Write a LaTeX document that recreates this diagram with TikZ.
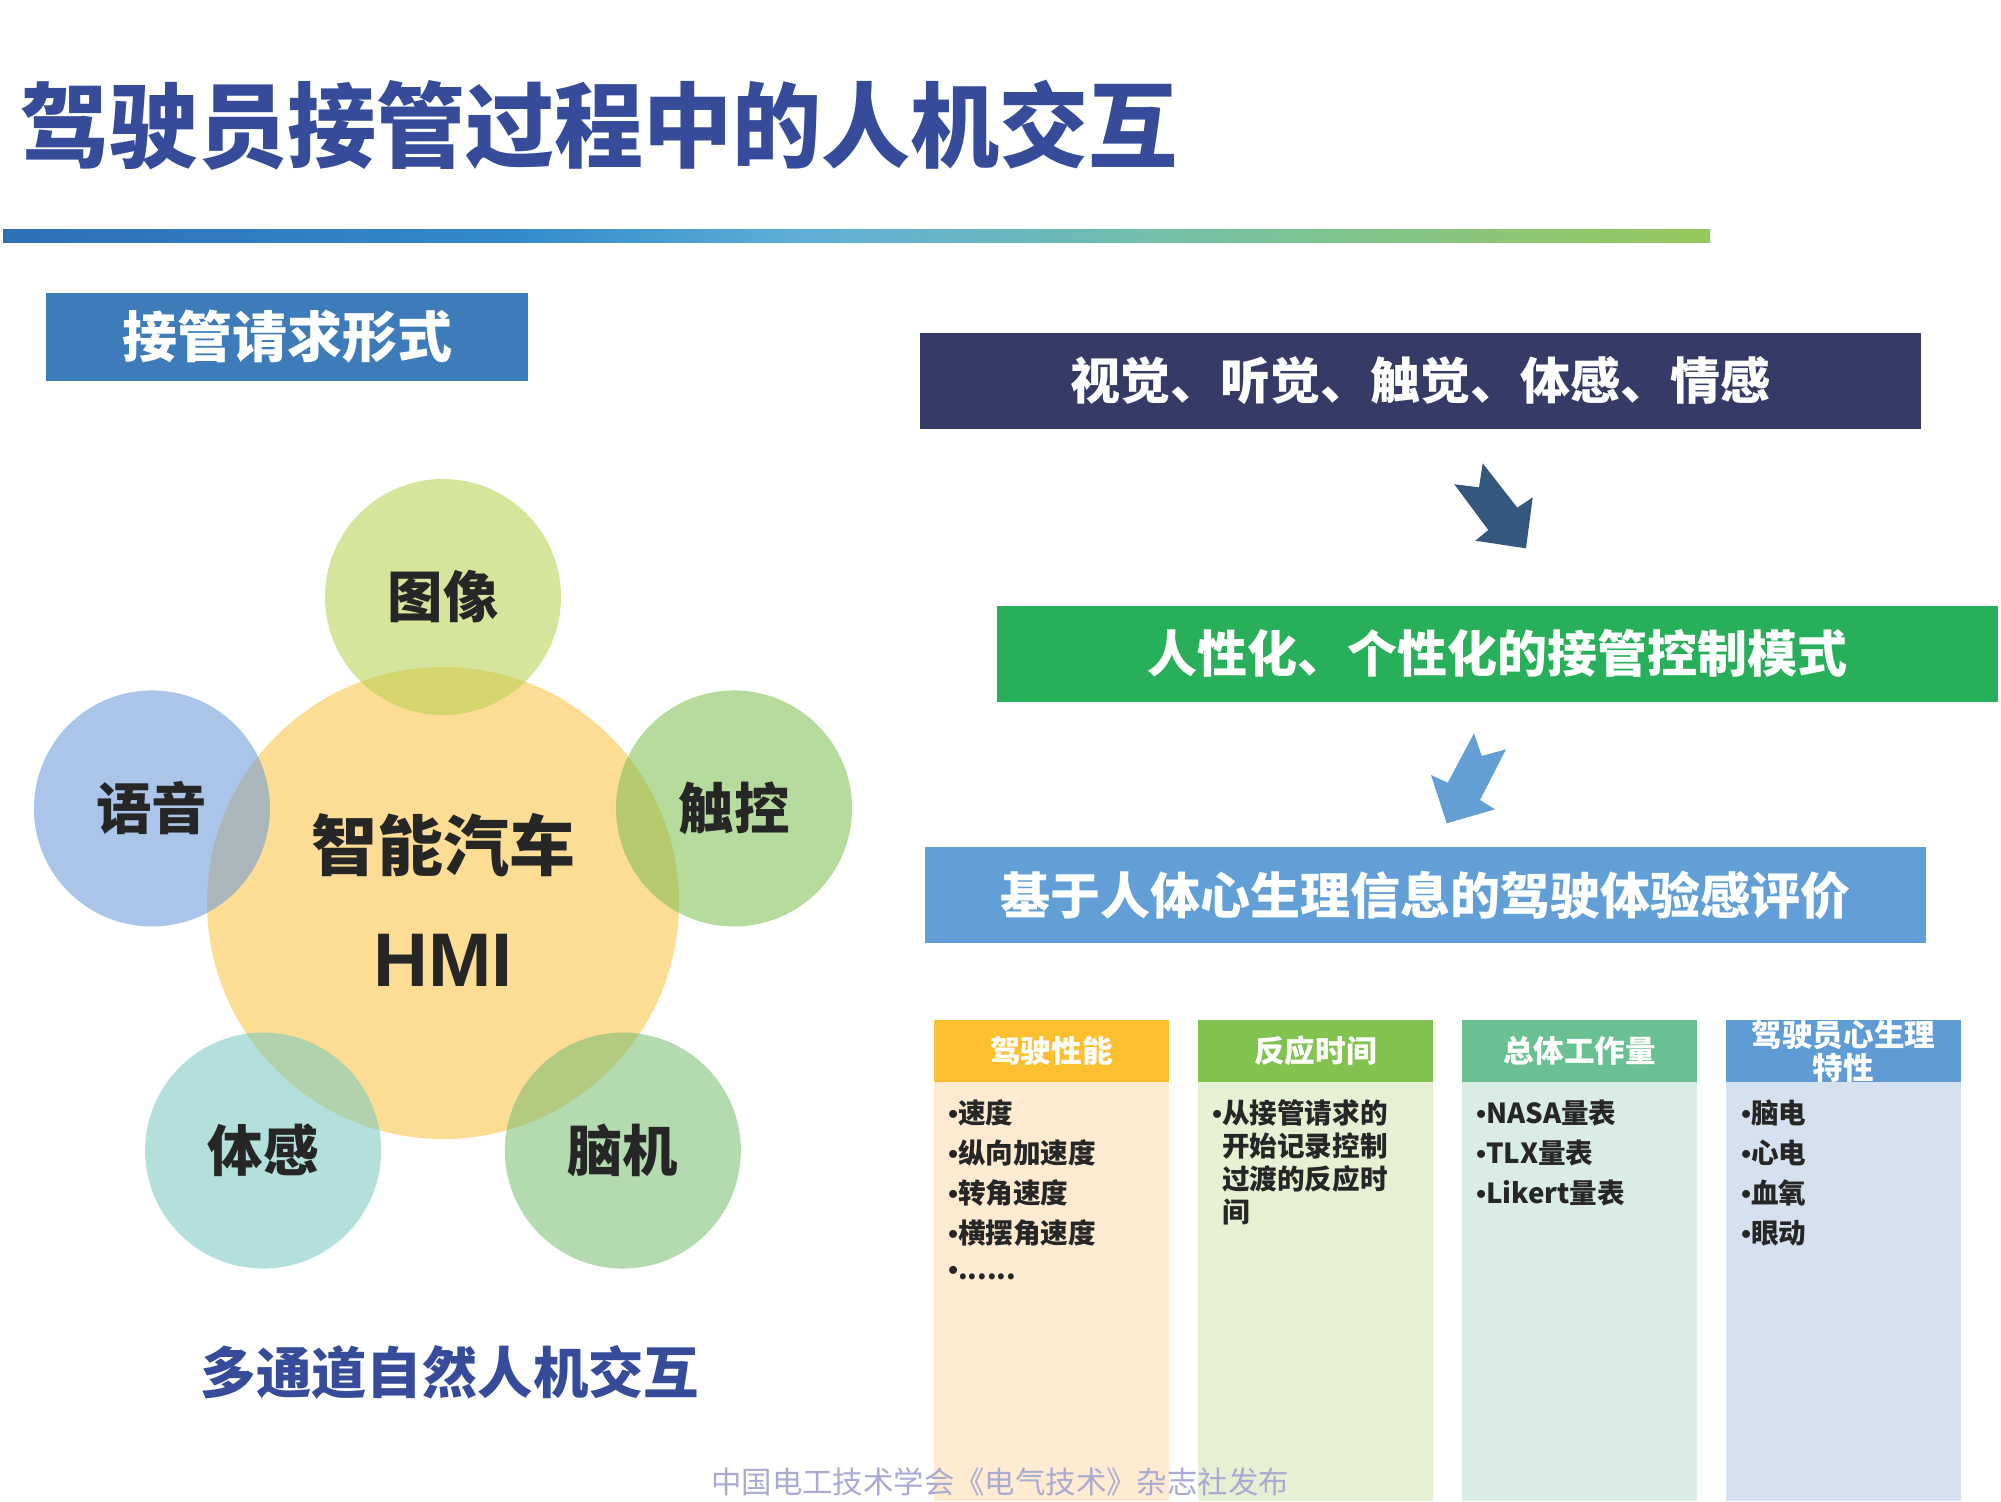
\documentclass[tikz,border=0pt]{standalone}
\usepackage{fontspec}
\usetikzlibrary{calc}
\newfontfamily\cjk{Noto Sans CJK SC}
\newfontfamily\latinfont{Liberation Sans}
\newcommand\setfs[1]{\fontsize{#1}{#1}\selectfont}
\newcommand\moredots{......}
\newcommand\dotmark{{\latinfont •}}

\definecolor{titleblue}{RGB}{55,75,155}
\definecolor{reqblue}{RGB}{61,123,187}
\definecolor{navy}{RGB}{53,59,102}
\definecolor{arrowA}{RGB}{52,87,125}
\definecolor{arrowB}{RGB}{99,158,213}
\definecolor{bandgreen}{RGB}{39,175,90}
\definecolor{bandblue}{RGB}{97,159,214}
\definecolor{hmiyellow}{RGB}{253,220,148}
\definecolor{imgc}{RGB}{182,209,80}
\definecolor{voicec}{RGB}{105,153,216}
\definecolor{touchc}{RGB}{125,191,82}
\definecolor{bodyc}{RGB}{120,201,193}
\definecolor{brainc}{RGB}{121,191,114}
\definecolor{headA}{RGB}{251,191,47}
\definecolor{headB}{RGB}{130,194,78}
\definecolor{headC}{RGB}{105,193,145}
\definecolor{headD}{RGB}{95,155,213}
\definecolor{bodyA}{RGB}{254,235,209}
\definecolor{bodyB}{RGB}{230,240,211}
\definecolor{bodyC}{RGB}{217,237,229}
\definecolor{bodyD}{RGB}{213,225,239}
\definecolor{textdark}{RGB}{38,38,38}
\definecolor{wmgray}{RGB}{170,170,210}
\definecolor{barA}{RGB}{45,112,182}
\definecolor{barB}{RGB}{52,138,203}
\definecolor{barC}{RGB}{95,175,215}
\definecolor{barD}{RGB}{105,185,190}
\definecolor{barE}{RGB}{125,195,150}
\definecolor{barF}{RGB}{150,200,90}

\pgfdeclarehorizontalshading{barshade}{100bp}{color(0bp)=(barA); color(25bp)=(barA);
  color(40bp)=(barB); color(48.5bp)=(barC); color(55bp)=(barD); color(62.5bp)=(barE);
  color(75bp)=(barF); color(100bp)=(barF)}

\begin{document}
\begin{tikzpicture}[x=0.5pt,y=-0.5pt,
  every node/.style={inner sep=0pt},
  band/.style={minimum width=500.5pt, minimum height=48pt, text=white,
    font={\cjk\bfseries\setfs{25}}},
  petal/.style={circle, minimum size=118pt, fill opacity=0.56, text opacity=1,
    text=textdark, font={\cjk\bfseries\setfs{27.7}}},
  headbox/.style={minimum width=117.5pt, minimum height=31pt, text=white, align=center,
    font={\cjk\bfseries\fontsize{15.3}{16.5}\selectfont}},
  bodybox/.style={minimum width=117.5pt, minimum height=209.5pt},
  item/.style={anchor=west, text=textdark, font={\cjk\bfseries\setfs{13.8}}}]
\def\u{264}

\fill[white] (0,0) rectangle (2001,1501);
\useasboundingbox (0,0) rectangle (2001,1501);

% title and bar
\node[anchor=west, text=titleblue, font={\cjk\bfseries\setfs{41.3}}] (title) at (20,125)
  {\scalebox{1.078}[1.12]{驾驶员接管过程中的人机交互}};
\shade[shading=barshade] (3,229) rectangle (1710,242);

% left part
\node[fill=reqblue, minimum width=241pt, minimum height=44pt, text=white,
  font={\cjk\bfseries\setfs{27.5}}] (req) at (287,337) {接管请求形式};

\node[circle, fill=hmiyellow, minimum size=236pt] (hmi) at (443,903) {};
\node[text=textdark, font={\cjk\bfseries\setfs{33}}] (car) at ($(hmi)+(0,-58)$) {智能汽车};
\node[text=textdark, font={\latinfont\bfseries\setfs{38}}] (hmitext) at ($(hmi)+(0,57)$) {HMI};

\foreach \a/\n/\t/\c in {270/img/图像/imgc, 198/voice/语音/voicec, 342/touch/触控/touchc,
  126/body/体感/bodyc, 54/brain/脑机/brainc}
  \node[petal, fill=\c] (\n) at ($(hmi)+(\a:306)$) {\t};

\node[text=titleblue, font={\cjk\bfseries\setfs{27.7}}] (multi) at (450,1372) {多通道自然人机交互};

% right part
\node[band, fill=navy] (sense) at (1420.5,381) {视觉、听觉、触觉、体感、情感};
\fill[arrowA] (1482.7,463.3) -- (1517.3,507.7) -- (1532.7,497.3) -- (1526,548.3)
  -- (1475.3,540.7) -- (1488.3,530) -- (1454.3,484.3) -- (1479,487.3) -- cycle;
\node[band, fill=bandgreen] (mode) at (1497,653.5) {人性化、个性化的接管控制模式};
\fill[arrowB] (1474,733.3) -- (1481.7,756) -- (1506,749.3) -- (1480,800)
  -- (1495,809.3) -- (1446.7,823.3) -- (1431,775) -- (1447.7,782.7) -- cycle;
\node[band, fill=bandblue] (eval) at (1425.5,895) {基于人体心生理信息的驾驶体验感评价};

% columns
\foreach \hc/\bc/\hd [count=\i] in {headA/bodyA/驾驶性能, headB/bodyB/反应时间,
  headC/bodyC/总体工作量, headD/bodyD/{驾驶员心生理\\特性}} {
  \node[bodybox, fill=\bc] (b\i) at (1051.5+\u*\i-\u,1291.5) {};
  \node[headbox, fill=\hc] (h\i) at (1051.5+\u*\i-\u,1051) {\hd};
}
\foreach \t [count=\j] in {速度, 纵向加速度, 转角速度, 横摆角速度, \moredots}
  \node[item] at (948,1113+40*\j-40) {\dotmark\t};
\foreach \t [count=\j] in {\dotmark{}从接管请求的, \phantom{\dotmark}开始记录控制,
  \phantom{\dotmark}过渡的反应时, \phantom{\dotmark}间}
  \node[item] at (948+\u,1113+33*\j-33) {\t};
\foreach \t [count=\j] in {NASA量表, TLX量表, Likert量表}
  \node[item] at (948+2*\u,1113+40*\j-40) {\dotmark\t};
\foreach \t [count=\j] in {脑电, 心电, 血氧, 眼动}
  \node[item] at (949+3*\u,1113+40*\j-40) {\dotmark\t};

\node[text=wmgray, font={\cjk\setfs{15.2}}] (mark) at (1000,1482) {中国电工技术学会《电气技术》杂志社发布};
\end{tikzpicture}
\end{document}
